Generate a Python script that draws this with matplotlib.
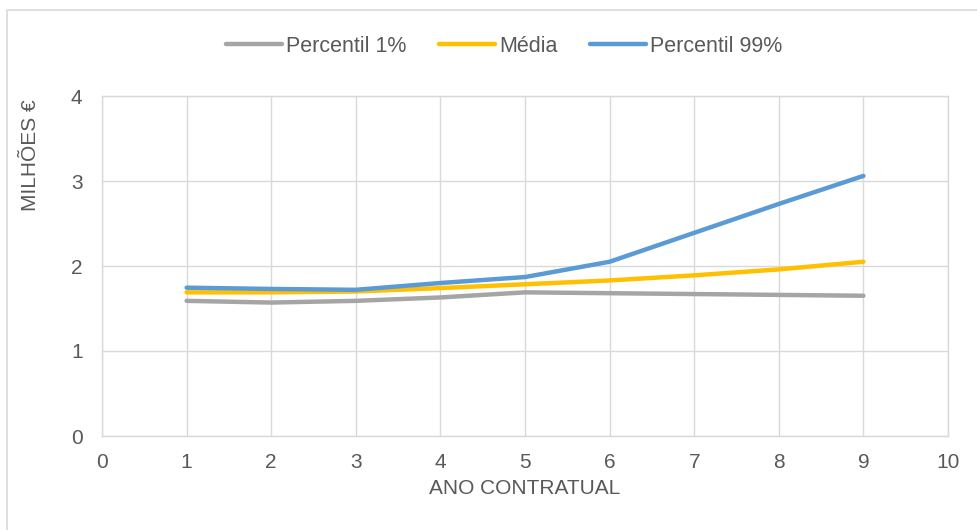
import matplotlib
matplotlib.use('Agg')
import matplotlib.pyplot as plt
from matplotlib.patches import Rectangle

# ── Data ────────────────────────────────
anos = [1, 2, 3, 4, 5, 6, 7, 8, 9]
percentil_1 = [1.59, 1.57, 1.59, 1.63, 1.69, 1.68, 1.67, 1.66, 1.65]
media = [1.69, 1.69, 1.70, 1.74, 1.785, 1.83, 1.89, 1.96, 2.05]
percentil_99 = [1.745, 1.73, 1.72, 1.80, 1.87, 2.05, 2.39, 2.73, 3.06]

x_ticks = list(range(0, 11))
y_ticks = [0, 1, 2, 3, 4]

TEXT = '#595959'
GRID = '#d9d9d9'

plt.rcParams['font.family'] = ['Liberation Sans', 'DejaVu Sans']

fig = plt.figure(figsize=(9.78, 5.3), dpi=100)
ax = fig.add_axes([102 / 978, 1 - 436 / 530, 846 / 978, 340 / 530])

ax.plot(anos, percentil_1, color='#a5a5a5', lw=3.2, label='Percentil 1%', solid_capstyle='round')
ax.plot(anos, media, color='#ffc000', lw=3.2, label='Média', solid_capstyle='round')
ax.plot(anos, percentil_99, color='#5b9bd5', lw=3.2, label='Percentil 99%', solid_capstyle='round')

ax.set_xlim(0, 10)
ax.set_ylim(0, 4)
ax.set_xticks(x_ticks)
ax.set_yticks(y_ticks)
ax.grid(True, color=GRID, lw=1)
ax.set_axisbelow(True)
for s in ax.spines.values():
    s.set_color(GRID)
    s.set_linewidth(1)
ax.tick_params(length=0, labelsize=15, colors=TEXT, pad=12)
ax.tick_params(axis='y', pad=14)

ax.set_xlabel('ANO CONTRATUAL', fontsize=15, color=TEXT)
ax.xaxis.set_label_coords(0.5, -0.153)
ax.xaxis.label.set_va('center')
ax.set_ylabel('MILHÕES €', fontsize=15, color=TEXT)
ax.yaxis.set_label_coords(-0.085, 0.826)
ax.yaxis.label.set_va('center')

leg = ax.legend(loc='center', bbox_to_anchor=(504 / 978, 1 - 46 / 530),
                bbox_transform=fig.transFigure, ncol=3, frameon=False,
                fontsize=15.5, handlelength=2.6, handletextpad=0.2, columnspacing=1.5)
for t in leg.get_texts():
    t.set_color(TEXT)

# chart frame
fig.patches.append(Rectangle((7 / 978, -0.01), 1.0, 1 - 10 / 530 + 0.01,
                             transform=fig.transFigure, fill=False,
                             edgecolor=GRID, lw=1.2))

fig.savefig('out.png', dpi=100)
